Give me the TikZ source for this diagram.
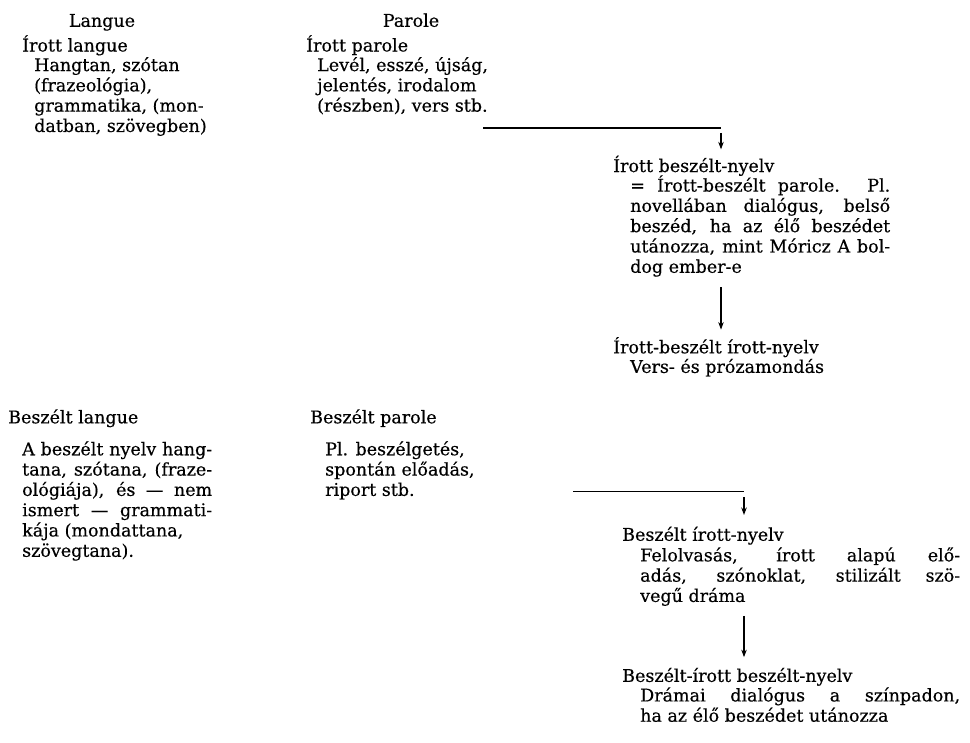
\documentclass[tikz,border=0pt]{standalone}
\usepackage{fontspec}
\setmainfont{DejaVu Serif}[FakeBold=0.4]
\usetikzlibrary{arrows.meta}
\newcommand{\blk}[1]{\begin{tabular}[t]{@{}l@{}}#1\end{tabular}}
\newcommand{\jl}[2]{\makebox[#1][s]{#2}}
\begin{document}
\begin{tikzpicture}[x=1pt,y=-1.03pt,
  txt/.style={inner sep=0pt, anchor=base west, font=\fontsize{17.5}{20.3}\selectfont},
  ttl/.style={inner sep=0pt, anchor=base, font=\fontsize{17.5}{20.3}\selectfont},
  hline/.style={line width=1.6pt},
  arr/.style={line width=1.1pt, -{Stealth[length=7.5pt,width=5.5pt]}}]
\useasboundingbox[fill=white] (0,0) rectangle (970,720.4);
% column titles
\node[ttl] (langue) at (102,26) {Langue};
\node[ttl] (parole) at (411,26) {Parole};
% written langue
\node[txt] (il) at (22,50) {Írott langue};
\node[txt] (ilb) at (34,69) {\blk{Hangtan, szótan\\(frazeológia),\\grammatika, (mon-\\datban, szövegben)}};
% written parole
\node[txt] (ip) at (306,50) {Írott parole};
\node[txt] (ipb) at (317,69) {\blk{Levél, esszé, újság,\\jelentés, irodalom\\(részben), vers stb.}};
% written spoken language
\node[txt] (ibn) at (613,167) {Írott beszélt-nyelv};
\node[txt] (ibnb) at (630,186) {\blk{\jl{260pt}{= Írott-beszélt parole. Pl.}\\\jl{260pt}{novellában dialógus, belső}\\\jl{260pt}{beszéd, ha az élő beszédet}\\\jl{260pt}{utánozza, mint Móricz A bol-}\\dog ember-e}};
\node[txt] (ibin) at (613,343) {Írott-beszélt írott-nyelv};
\node[txt] (ibinb) at (630,362) {Vers- és prózamondás};
% spoken langue
\node[txt] (bl) at (8,411) {Beszélt langue};
\node[txt] (blb) at (22,442) {\blk{\jl{190pt}{A beszélt nyelv hang-}\\\jl{190pt}{tana, szótana, (fraze-}\\\jl{190pt}{ológiája), és — nem}\\\jl{190pt}{ismert — grammati-}\\kája (mondattana,\\szövegtana).}};
% spoken parole
\node[txt] (bp) at (310,411) {Beszélt parole};
\node[txt] (bpb) at (325,442) {\blk{Pl. beszélgetés,\\spontán előadás,\\riport stb.}};
% spoken written language
\node[txt] (bin) at (622,525) {Beszélt írott-nyelv};
\node[txt] (binb) at (640,545) {\blk{\jl{320pt}{Felolvasás, írott alapú elő-}\\\jl{320pt}{adás, szónoklat, stilizált szö-}\\vegű dráma}};
\node[txt] (bibn) at (622,662) {Beszélt-írott beszélt-nyelv};
\node[txt] (bibnb) at (640,681) {\blk{\jl{320pt}{Drámai dialógus a színpadon,}\\ha az élő beszédet utánozza}};
% connectors
\coordinate (l1s) at (483,124);
\coordinate (l1e) at (721,124);
\coordinate (a1s) at (721,129);
\coordinate (a1e) at (721,145);
\draw[hline] (l1s) -- (l1e);
\draw[arr] (a1s) -- (a1e);
\coordinate (a2s) at (721,279);
\coordinate (a2e) at (721,320);
\draw[arr] (a2s) -- (a2e);
\coordinate (l2s) at (573,477);
\coordinate (l2e) at (744,477);
\coordinate (a3s) at (744,483);
\coordinate (a3e) at (744,500);
\draw[hline] (l2s) -- (l2e);
\draw[arr] (a3s) -- (a3e);
\coordinate (a4s) at (744,598);
\coordinate (a4e) at (744,638);
\draw[arr] (a4s) -- (a4e);
\end{tikzpicture}
\end{document}
